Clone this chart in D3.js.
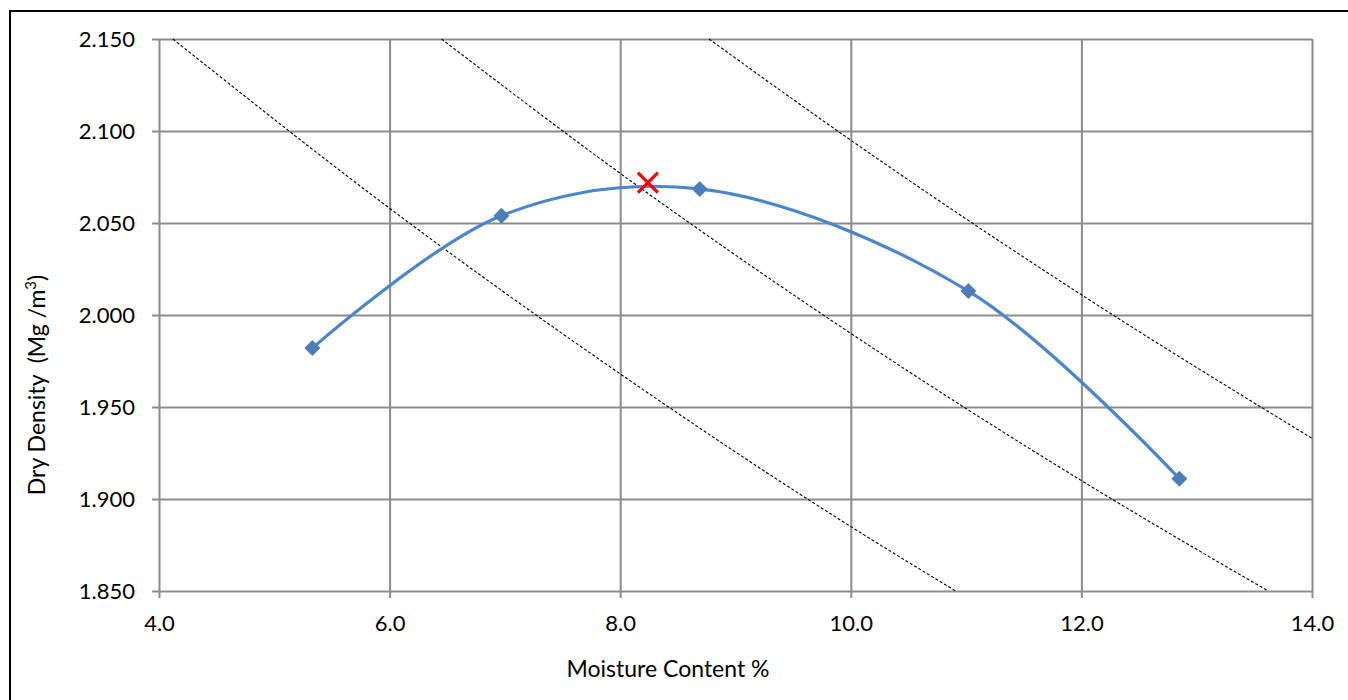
<!DOCTYPE html>
<html>
<head>
<meta charset="utf-8">
<script src="https://cdn.jsdelivr.net/npm/d3@7"></script>
<style>
  html, body { margin: 0; padding: 0; background: #fff; }
  svg { display: block; font-family: Lato, "Open Sans", sans-serif; }
</style>
</head>
<body>
<svg id="chart" width="1348" height="700"></svg>
<script>
// Compaction test results: moisture content (%) and dry density (Mg/m3)
const moisture = [5.33, 6.97, 8.69, 11.02, 12.85];
const dryDensity = [1.982, 2.054, 2.0685, 2.013, 1.911];

// Optimum point (max dry density at optimum moisture content)
const optimum = { w: 8.24, rho: 2.072 };

// Air-voids lines (10%, 5%, 0% air voids), [moisture %, dry density]
const airVoids10 = [[4.12, 2.150], [6.0, 2.058], [8.0, 1.968], [10.0, 1.885], [10.91, 1.850]];
const airVoids5  = [[6.45, 2.150], [8.0, 2.077], [10.0, 1.990], [12.0, 1.910], [13.62, 1.850]];
const airVoids0  = [[8.77, 2.150], [10.0, 2.095], [12.0, 2.011], [14.0, 1.933]];

const xTicks = [4, 6, 8, 10, 12, 14];
const yTicks = [1.85, 1.90, 1.95, 2.00, 2.05, 2.10, 2.15];

(function () {
const svg = d3.select("#chart");
const pLeft = 159, pRight = 1312, pTop = 39, pBottom = 591;

const x = d3.scaleLinear().domain([4, 14]).range([pLeft, pRight]);
const y = d3.scaleLinear().domain([1.85, 2.15]).range([pBottom, pTop]);

// Outer frame
svg.append("rect")
  .attr("x", 10).attr("y", 11).attr("width", 1360).attr("height", 720)
  .attr("fill", "none").attr("stroke", "#000").attr("stroke-width", 2);

const gridColor = "#8c8c8c";

// Horizontal gridlines with short outward ticks
const yAxis = d3.axisLeft(y).tickValues(yTicks)
  .tickSize(-(pRight - pLeft)).tickSizeOuter(0)
  .tickFormat(d3.format(".3f"));
const gy = svg.append("g").attr("transform", `translate(${pLeft},0)`).call(yAxis);
gy.select(".domain").remove();
gy.selectAll(".tick line").attr("x1", -7).attr("stroke", gridColor).attr("stroke-width", 2);
gy.selectAll(".tick text").attr("x", -24).attr("font-size", 22).attr("fill", "#000")
  .attr("font-family", "Lato, 'Open Sans', sans-serif");

// Vertical gridlines with short outward ticks
const xAxis = d3.axisBottom(x).tickValues(xTicks)
  .tickSize(-(pBottom - pTop)).tickSizeOuter(0)
  .tickFormat(d3.format(".1f"));
const gx = svg.append("g").attr("transform", `translate(0,${pBottom})`).call(xAxis);
gx.select(".domain").remove();
gx.selectAll(".tick line").attr("y1", 7).attr("stroke", gridColor).attr("stroke-width", 2);
gx.selectAll(".tick text").attr("y", 24).attr("dy", "0.71em").attr("font-size", 22).attr("fill", "#000")
  .attr("font-family", "Lato, 'Open Sans', sans-serif");

// Air-voids lines
const avLine = d3.line().x(d => x(d[0])).y(d => y(d[1])).curve(d3.curveMonotoneX);
[airVoids10, airVoids5, airVoids0].forEach(pts => {
  svg.append("path").attr("d", avLine(pts))
    .attr("fill", "none").attr("stroke", "#000").attr("stroke-width", 1.1)
    .attr("stroke-dasharray", "3,2");
});

// Smoothed compaction curve
const pts = moisture.map((w, i) => [w, dryDensity[i]]);
const curve = d3.line().x(d => x(d[0])).y(d => y(d[1])).curve(d3.curveCatmullRom.alpha(0.5));
svg.append("path").attr("d", curve(pts))
  .attr("fill", "none").attr("stroke", "#4a86d0").attr("stroke-width", 3.2);

// Diamond markers
svg.selectAll("path.marker").data(pts).join("path")
  .attr("class", "marker")
  .attr("d", d3.symbol().type(d3.symbolSquare).size(128))
  .attr("transform", d => `translate(${x(d[0])},${y(d[1])}) rotate(45)`)
  .attr("fill", "#4a7ebb");

// Optimum marker (red cross)
const cx = x(optimum.w), cy = y(optimum.rho), s = 10;
svg.append("path")
  .attr("d", `M${cx - s},${cy - s}L${cx + s},${cy + s}M${cx - s},${cy + s}L${cx + s},${cy - s}`)
  .attr("stroke", "#ff0000").attr("stroke-width", 3.2).attr("fill", "none");

// Axis titles
svg.append("text").attr("x", 668).attr("y", 677)
  .attr("text-anchor", "middle").attr("font-size", 23).text("Moisture Content %");

const yt = svg.append("text")
  .attr("transform", `translate(45,385) rotate(-90)`)
  .attr("text-anchor", "middle").attr("font-size", 23)
  .style("white-space", "pre");
yt.append("tspan").text("Dry Density  (Mg /m");
yt.append("tspan").attr("baseline-shift", "super").attr("font-size", 15).text("3");
yt.append("tspan").text(")");
})();
</script>
</body>
</html>
